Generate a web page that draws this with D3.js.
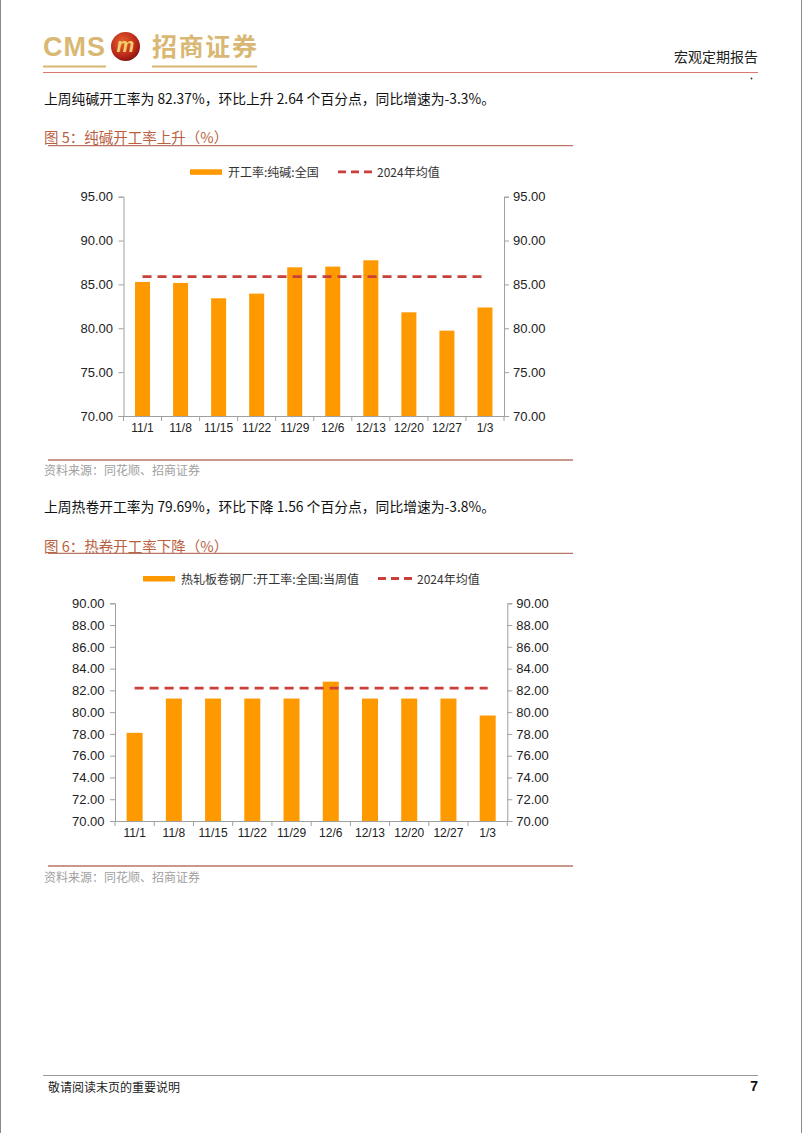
<!DOCTYPE html>
<html><head><meta charset="utf-8">
<script src="https://cdn.jsdelivr.net/npm/d3@7/dist/d3.min.js"></script>
<style>
html,body{margin:0;padding:0;background:#fff;}
svg{display:block;}
</style></head>
<body>
<script>
// ---- data ----
const categories = ["11/1","11/8","11/15","11/22","11/29","12/6","12/13","12/20","12/27","1/3"];
const sodaAshRate = [85.28, 85.17, 83.42, 83.95, 86.95, 87.03, 87.75, 81.82, 79.73, 82.37];
const sodaAshAvg2024 = 85.9;
const sodaAshTicks = [70, 75, 80, 85, 90, 95];
const hotCoilRate = [78.10, 81.25, 81.25, 81.25, 81.25, 82.80, 81.25, 81.25, 81.25, 79.69];
const hotCoilAvg2024 = 82.2;
const hotCoilTicks = [70, 72, 74, 76, 78, 80, 82, 84, 86, 88, 90];

const W = 802, H = 1133;
const CJK = "'Noto Sans CJK SC', 'Liberation Sans', sans-serif";
const LAT = "'Liberation Sans', Arial, 'Noto Sans CJK SC', sans-serif";
const BAR = "#ff9900", AVG = "#c9403a", AXIS = "#a0a0a0", TITLE = "#b9613f", RULE = "#b87563";

const svg = d3.select("body").append("svg").attr("width", W).attr("height", H);

// page borders
svg.append("line").attr("x1",0.5).attr("x2",0.5).attr("y1",0).attr("y2",H).attr("stroke","#8a8a8a");
svg.append("line").attr("x1",W-0.5).attr("x2",W-0.5).attr("y1",0).attr("y2",H).attr("stroke","#8a8a8a");

// ---- header ----
const gold = "#d9b874";
svg.append("text").attr("x",43).attr("y",56).attr("font-family",LAT).attr("font-weight","bold")
  .attr("font-size",27).attr("fill",gold).attr("textLength",62).text("CMS");
svg.append("line").attr("x1",43).attr("x2",106).attr("y1",66.5).attr("y2",66.5).attr("stroke",gold).attr("stroke-width",2);
const defs = svg.append("defs");
const rg = defs.append("radialGradient").attr("id","lg").attr("cx","40%").attr("cy","35%").attr("r","70%");
rg.append("stop").attr("offset","0%").attr("stop-color","#e8602e");
rg.append("stop").attr("offset","70%").attr("stop-color","#b8261a");
rg.append("stop").attr("offset","100%").attr("stop-color","#7a140c");
svg.append("circle").attr("cx",125.5).attr("cy",46.5).attr("r",14.5).attr("fill","url(#lg)");
svg.append("text").attr("x",125.5).attr("y",52).attr("text-anchor","middle").attr("font-family",LAT)
  .attr("font-weight","bold").attr("font-style","italic").attr("font-size",20).attr("fill","#f2cf6a").text("m");
svg.append("text").attr("x",152).attr("y",56).attr("font-family",CJK).attr("font-weight","bold")
  .attr("font-size",25).attr("fill",gold).attr("textLength",105).text("招商证券");
svg.append("line").attr("x1",152).attr("x2",257).attr("y1",66.5).attr("y2",66.5).attr("stroke",gold).attr("stroke-width",2);
svg.append("text").attr("x",758).attr("y",56).attr("text-anchor","end").attr("dominant-baseline","central")
  .attr("font-family",CJK).attr("font-size",14).attr("fill","#222").text("宏观定期报告");
svg.append("line").attr("x1",43).attr("x2",758).attr("y1",72.5).attr("y2",72.5).attr("stroke","#d97a6c").attr("stroke-width",1.2);
svg.append("circle").attr("cx",751.5).attr("cy",78.5).attr("r",0.9).attr("fill","#333");

function para(y, txt){
  svg.append("text").attr("x",44).attr("y",y).attr("dominant-baseline","central")
    .attr("font-family",CJK).attr("font-size",13.8).attr("fill","#111").text(txt);
}
function title(y, txt, lineY){
  svg.append("text").attr("x",44).attr("y",y).attr("dominant-baseline","central")
    .attr("font-family",CJK).attr("font-size",14.5).attr("fill",TITLE).text(txt);
  svg.append("line").attr("x1",48).attr("x2",573).attr("y1",lineY).attr("y2",lineY).attr("stroke",RULE).attr("stroke-width",1.3);
}
function source(lineY, y){
  svg.append("line").attr("x1",48).attr("x2",573).attr("y1",lineY).attr("y2",lineY).attr("stroke",RULE).attr("stroke-width",1.3);
  svg.append("text").attr("x",44).attr("y",y).attr("dominant-baseline","central")
    .attr("font-family",CJK).attr("font-size",12).attr("fill","#a0a0a0").text("资料来源：同花顺、招商证券");
}

function chart(o){
  const g = svg.append("g");
  const x = d3.scaleBand().domain(categories).range([o.left, o.right]).paddingInner(0.6).paddingOuter(0.3);
  const xb = d3.scaleBand().domain(categories).range([o.left, o.right]);
  const y = d3.scaleLinear().domain([o.ticks[0], o.ticks[o.ticks.length-1]]).range([o.bottom, o.top]);

  // bars
  g.selectAll("rect.bar").data(o.values).join("rect").attr("class","bar")
    .attr("x",(d,i)=> xb(categories[i]) + xb.bandwidth()/2 - o.barW/2)
    .attr("width",o.barW)
    .attr("y",d=>y(d)).attr("height",d=>y(o.ticks[0]) - y(d))
    .attr("fill",BAR);

  // avg dashed line (from first to last category center)
  g.append("line")
    .attr("x1", xb(categories[0]) + xb.bandwidth()/2)
    .attr("x2", xb(categories[categories.length-1]) + xb.bandwidth()/2)
    .attr("y1", y(o.avg)).attr("y2", y(o.avg))
    .attr("stroke",AVG).attr("stroke-width",2.8).attr("stroke-dasharray","9,6");

  // left axis
  const la = g.append("g").attr("transform",`translate(${o.left},0)`)
    .call(d3.axisLeft(y).tickValues(o.ticks).tickFormat(d3.format(".2f")).tickSizeOuter(0).tickSize(5).tickPadding(5.5));
  const ra = g.append("g").attr("transform",`translate(${o.right},0)`)
    .call(d3.axisRight(y).tickValues(o.ticks).tickFormat(d3.format(".2f")).tickSizeOuter(0).tickSize(5).tickPadding(4));
  [la, ra].forEach(a=>{
    a.selectAll("path").attr("stroke",AXIS);
    a.selectAll("line").attr("stroke",AXIS);
    a.selectAll("text").attr("font-family",LAT).attr("font-size",13).attr("fill","#222");
  });
  // bottom axis
  const ba = g.append("g").attr("transform",`translate(0,${o.bottom})`)
    .call(d3.axisBottom(xb).tickSize(0).tickSizeOuter(0).tickPadding(7));
  ba.select("path").attr("stroke",AXIS);
  ba.selectAll("text").attr("font-family",LAT).attr("font-size",12).attr("fill","#222");
  const bounds = categories.map(c=>xb(c)).concat([xb.range()[1]]);
  g.selectAll("line.xt").data(bounds).join("line").attr("class","xt")
    .attr("x1",d=>d).attr("x2",d=>d).attr("y1",o.bottom).attr("y2",o.bottom+5).attr("stroke",AXIS);

  // legend
  const lg = g.append("g");
  lg.append("rect").attr("x",o.legX).attr("y",o.legY-2.5).attr("width",32).attr("height",5.5).attr("fill",BAR);
  lg.append("text").attr("x",o.legX+38).attr("y",o.legY).attr("dominant-baseline","central")
    .attr("font-family",CJK).attr("font-size",12).attr("fill","#333").text(o.legName);
  lg.append("line").attr("x1",o.legX2).attr("x2",o.legX2+34).attr("y1",o.legY).attr("y2",o.legY)
    .attr("stroke",AVG).attr("stroke-width",2.8).attr("stroke-dasharray","8,5");
  lg.append("text").attr("x",o.legX2+39).attr("y",o.legY).attr("dominant-baseline","central")
    .attr("font-family",CJK).attr("font-size",12).attr("fill","#333").text("2024年均值");
}

// ---- section 1 ----
para(98, "上周纯碱开工率为 82.37%，环比上升 2.64 个百分点，同比增速为-3.3%。");
title(136.7, "图 5：纯碱开工率上升（%）", 145.7);
chart({left:123.5, right:504, top:196.7, bottom:416, ticks:sodaAshTicks, values:sodaAshRate, avg:sodaAshAvg2024,
  barW:15, legX:190, legY:171.8, legName:"开工率:纯碱:全国", legX2:338});
source(460, 469.3);

// ---- section 2 ----
para(505.7, "上周热卷开工率为 79.69%，环比下降 1.56 个百分点，同比增速为-3.8%。");
title(545, "图 6：热卷开工率下降（%）", 553.3);
chart({left:115, right:507.3, top:603.3, bottom:821, ticks:hotCoilTicks, values:hotCoilRate, avg:hotCoilAvg2024,
  barW:16, legX:143, legY:578.5, legName:"热轧板卷钢厂:开工率:全国:当周值", legX2:378});
source(866, 876);

// ---- footer ----
svg.append("line").attr("x1",43).attr("x2",758).attr("y1",1075.5).attr("y2",1075.5).attr("stroke","#9a9a9a").attr("stroke-width",1.2);
svg.append("text").attr("x",48).attr("y",1086).attr("dominant-baseline","central")
  .attr("font-family",CJK).attr("font-size",12).attr("fill","#222").text("敬请阅读末页的重要说明");
svg.append("text").attr("x",758).attr("y",1086).attr("text-anchor","end").attr("dominant-baseline","central")
  .attr("font-family",LAT).attr("font-weight","bold").attr("font-size",14).attr("fill","#111").text("7");
</script>
</body></html>
